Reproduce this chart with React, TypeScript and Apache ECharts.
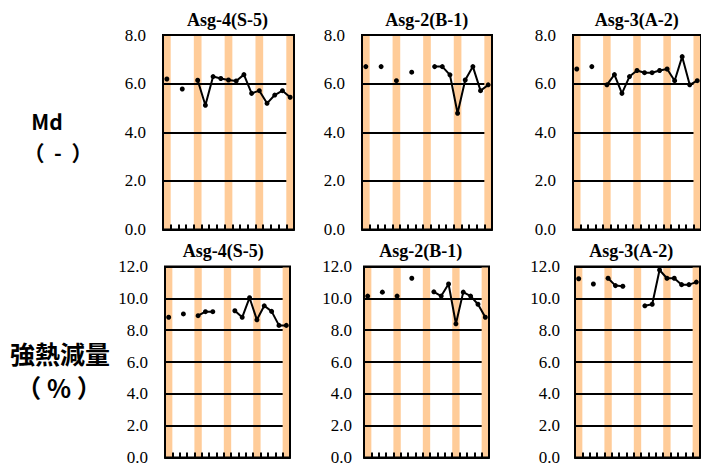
import React, { useEffect, useRef } from 'react';
import * as echarts from 'echarts';

// ---- data ----
const categories = ['1', '2', '3', '4', '5', '6', '7', '8', '9', '10', '11', '12', '13', '14', '15', '16', '17'];
const shaded = [1, 0, 0, 0, 1, 0, 0, 0, 1, 0, 0, 0, 1, 0, 0, 0, 1];

const mdS5 = [6.19, null, 5.78, null, 6.14, 5.11, 6.29, 6.21, 6.15, 6.11, 6.37, 5.6, 5.71, 5.19, 5.53, 5.71, 5.44];
const mdB1 = [6.7, null, 6.7, null, 6.12, null, 6.47, null, null, 6.7, 6.7, 6.36, 4.78, 6.15, 6.7, 5.71, 5.95];
const mdA2 = [6.6, null, 6.7, null, 5.95, 6.37, 5.6, 6.29, 6.54, 6.45, 6.45, 6.54, 6.6, 6.12, 7.11, 5.95, 6.12];

const igS5 = [8.81, null, 9.02, null, 8.91, 9.16, 9.16, null, null, 9.22, 8.81, 10.04, 8.65, 9.53, 9.18, 8.3, 8.3];
const igB1 = [10.14, null, 10.39, null, 10.14, null, 11.26, null, null, 10.41, 10.14, 10.9, 8.4, 10.39, 10.14, 9.63, 8.81];
const igA2 = [11.23, null, 10.9, null, 11.26, 10.8, 10.76, null, null, 9.53, 9.63, 11.78, 11.26, 11.26, 10.86, 10.86, 11.02];

const titles = ['Asg-4(S-5)', 'Asg-2(B-1)', 'Asg-3(A-2)', 'Asg-4(S-5)', 'Asg-2(B-1)', 'Asg-3(A-2)'];
const seriesData = [mdS5, mdB1, mdA2, igS5, igB1, igA2];
const yMax = [8, 8, 8, 12, 12, 12];
const yInterval = 2;

// ---- layout ----
const layout = [
  { left: 163, top: 35, width: 131, height: 194.5, margin: 17, tx: 227.5, ty: 20 },
  { left: 362, top: 35, width: 130, height: 194.5, margin: 17, tx: 426.7, ty: 20 },
  { left: 573, top: 35, width: 131, height: 194.5, margin: 17, tx: 636.7, ty: 20 },
  { left: 165, top: 266.5, width: 125, height: 193.5, margin: 17, tx: 223.3, ty: 251 },
  { left: 364, top: 266.5, width: 125, height: 193.5, margin: 12, tx: 420.8, ty: 250.5 },
  { left: 575, top: 266.5, width: 125, height: 193.5, margin: 15, tx: 631.3, ty: 250.5 },
];

const serif = '"Liberation Serif", "Times New Roman", serif';
const gothic = '"Noto Sans CJK JP", "Noto Sans", sans-serif';

export default function App() {
  const ref = useRef<HTMLDivElement>(null);
  useEffect(() => {
    if (!ref.current) return;
    const chart = echarts.init(ref.current, null, { renderer: 'svg' });
    const grid: any[] = [];
    const xAxis: any[] = [];
    const yAxis: any[] = [];
    const series: any[] = [];
    const graphic: any[] = [];
    const lastShaded = shaded.lastIndexOf(1);
    layout.forEach((l, i) => {
      grid.push({
        left: l.left, top: l.top, width: l.width, height: l.height,
        show: true, borderColor: '#000', borderWidth: 2, backgroundColor: 'transparent', z: 5,
      });
      xAxis.push({
        type: 'category', gridIndex: i, data: categories, boundaryGap: true, z: 5,
        axisLine: { show: true, lineStyle: { color: '#000', width: 2 } },
        axisTick: { show: true, inside: true, length: 5, interval: 0, lineStyle: { color: '#000', width: 2 } },
        axisLabel: { show: false, interval: 0 },
        splitLine: { show: false },
      });
      yAxis.push({
        type: 'value', gridIndex: i, min: 0, max: yMax[i], interval: yInterval, z: 3,
        axisLine: { show: false },
        axisTick: { show: false },
        axisLabel: {
          show: true, margin: l.margin, color: '#000', fontFamily: serif, fontSize: 17,
          formatter: (v: number) => v.toFixed(1),
        },
        splitLine: { show: true, lineStyle: { color: '#000', width: 2 } },
      });
      // shaded bands (all but last sit under the gridlines, the last one above them)
      series.push({
        type: 'bar', xAxisIndex: i, yAxisIndex: i, silent: true, z: 1, stack: 'band' + i,
        data: shaded.map((s, k) => (s && k !== lastShaded ? yMax[i] : null)),
        barWidth: '100%', barCategoryGap: '0%',
        itemStyle: { color: '#FFCC99' },
      });
      series.push({
        type: 'bar', xAxisIndex: i, yAxisIndex: i, silent: true, z: 4, stack: 'band' + i,
        data: shaded.map((s, k) => (s && k === lastShaded ? yMax[i] : null)),
        barWidth: '100%', barCategoryGap: '0%',
        itemStyle: { color: '#FFCC99' },
      });
      series.push({
        type: 'line', xAxisIndex: i, yAxisIndex: i, z: 6, silent: true,
        data: seriesData[i], connectNulls: false,
        symbol: 'circle', symbolSize: 5, showSymbol: true, showAllSymbol: true,
        lineStyle: { color: '#000', width: 2 },
        itemStyle: { color: '#000' },
      });
      graphic.push({
        type: 'text', x: l.tx, y: l.ty,
        style: {
          text: titles[i], fill: '#000', font: `bold 18px ${serif}`,
          textAlign: 'center', textVerticalAlign: 'middle',
        },
      });
    });
    graphic.push(
      { type: 'text', x: 47, y: 121, style: { text: 'Md', fill: '#000', font: `bold 21px ${gothic}`, textAlign: 'center', textVerticalAlign: 'middle' } },
      { type: 'text', x: 58, y: 152, style: { text: '（  -  ）', fill: '#000', font: `bold 21px ${gothic}`, textAlign: 'center', textVerticalAlign: 'middle' } },
      { type: 'text', x: 60, y: 353, style: { text: '強熱減量', fill: '#000', font: `bold 25px ${gothic}`, textAlign: 'center', textVerticalAlign: 'middle' } },
      { type: 'text', x: 59, y: 387, style: { text: '（ % ）', fill: '#000', font: `bold 25px ${gothic}`, textAlign: 'center', textVerticalAlign: 'middle' } },
    );
    chart.setOption({
      animation: false,
      backgroundColor: '#fff',
      grid, xAxis, yAxis, series, graphic,
    });
    return () => chart.dispose();
  }, []);
  return <div ref={ref} style={{ position: 'fixed', left: 0, top: 0, width: 701, height: 466 }} />;
}
